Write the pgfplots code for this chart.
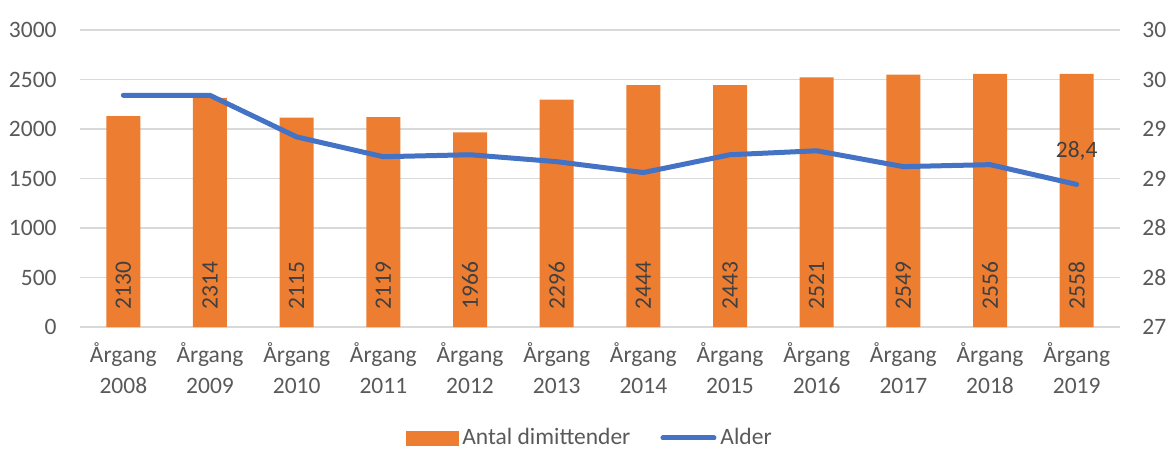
\documentclass[border=0pt]{standalone}
\usepackage{pgfplots}
\pgfplotsset{compat=1.18}
\usepackage{fontspec}
\setmainfont{Carlito}
\definecolor{barorange}{HTML}{ED7D31}
\definecolor{lineblue}{HTML}{4472C4}
\definecolor{txtgray}{HTML}{595959}
\definecolor{lblgray}{HTML}{404040}
\definecolor{gridgray}{HTML}{D9D9D9}
\begin{document}
\begin{tikzpicture}
\pgfplotsset{
  common/.style={
    scale only axis, width=520pt, height=148.5pt,
    xmin=-0.5, xmax=11.5,
    axis line style={draw=none},
    major tick length=0pt,
    /pgf/number format/assume math mode=true,
    /pgf/number format/1000 sep={},
    tick label style={font=\fontsize{11.75}{15.5}\selectfont, text=txtgray},
  }
}
\begin{axis}[common, name=main,
  ymin=0, ymax=3000, ytick={0,500,...,3000},
  ymajorgrids, grid style={gridgray, line width=0.8pt},
  xtick={0,...,11},
  xticklabels={{Årgang\\2008},{Årgang\\2009},{Årgang\\2010},{Årgang\\2011},{Årgang\\2012},{Årgang\\2013},{Årgang\\2014},{Årgang\\2015},{Årgang\\2016},{Årgang\\2017},{Årgang\\2018},{Årgang\\2019}},
  xticklabel style={align=center, anchor=north, inner sep=0pt, yshift=-7.5pt},
  yticklabel style={anchor=east, inner sep=0pt, xshift=-11.5pt},
]
\addplot[ybar, bar width=17pt, fill=barorange, draw=none] coordinates {
(0,2130) (1,2314) (2,2115) (3,2119) (4,1966) (5,2296) (6,2444) (7,2443) (8,2521) (9,2549) (10,2556) (11,2558)};
\addplot[draw=none, mark=none, nodes near coords, point meta=explicit symbolic,
  every node near coord/.style={rotate=90, anchor=west, inner sep=0pt, text=lblgray, font=\fontsize{11.75}{14}\selectfont}]
  table[meta=lbl] {
x y lbl
0 172 2130
1 172 2314
2 172 2115
3 172 2119
4 172 1966
5 172 2296
6 172 2444
7 172 2443
8 172 2521
9 172 2549
10 172 2556
11 172 2558
};
\end{axis}
\begin{axis}[common,
  ymin=27, ymax=30, ytick={27,27.5,...,30},
  yticklabels={27,28,28,29,29,30,30},
  axis x line=none, axis y line*=right,
  xtick=\empty,
  yticklabel style={anchor=west, inner sep=0pt, xshift=11pt},
  legend style={at={(0.491,-0.3737)}, anchor=center, draw=none, fill=none,
    legend columns=2, font=\fontsize{11.75}{14}\selectfont, text=txtgray,
    /tikz/every even column/.append style={column sep=13pt},
    legend cell align=left, inner sep=0pt,
    nodes={inner sep=2pt}},
]
\addlegendimage{legend image code/.code={\fill[barorange] (0pt,-3.5pt) rectangle (26pt,3.5pt);}}
\addlegendentry{Antal dimittender}
\addplot[lineblue, line width=2.5pt, line join=round, line cap=round, mark=none,
  legend image code/.code={\draw[lineblue, line width=2.5pt, line cap=round] (1.25pt,0pt) -- (26.75pt,0pt);}]
  coordinates {
(0,29.34) (1,29.34) (2,28.92) (3,28.72) (4,28.74) (5,28.67) (6,28.56) (7,28.74) (8,28.78) (9,28.62) (10,28.64) (11,28.44)};
\addlegendentry{Alder}
\addplot[draw=none, mark=none, forget plot, nodes near coords, point meta=explicit symbolic,
  every node near coord/.style={anchor=south, inner sep=0pt, yshift=12pt, text=lblgray, font=\fontsize{11.75}{14}\selectfont}]
  table[meta=lbl] {
x y lbl
11 28.44 {28,4}
};
\end{axis}
\path ([xshift=-40pt,yshift=-61pt]main.south west) rectangle ([xshift=24pt,yshift=15pt]main.north east);
\end{tikzpicture}
\end{document}
